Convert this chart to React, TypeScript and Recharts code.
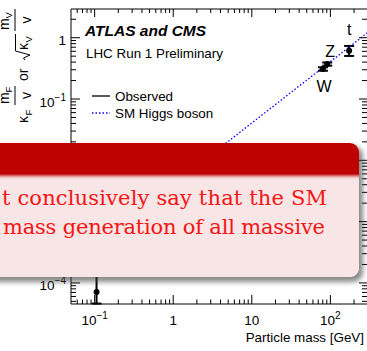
import React from "react";
import { ScatterChart, Scatter, XAxis, YAxis, ErrorBar, Customized } from "recharts";

// particles (mass in GeV, kappa-scaled reduced coupling)
const PARTICLES = [
  { name: "μ", m: 0.1057, y: 7.1e-5, err: [2.5e-5, 2e-4] },
  { name: "W", m: 80.4, y: 0.309, err: [0.02, 0.02] },
  { name: "Z", m: 91.19, y: 0.372, err: [0.022, 0.022] },
  { name: "t", m: 173.2, y: 0.614, err: [0.11, 0.12] },
];

// SM Higgs expectation (m / v), end points
const SM_LINE = [
  { m: 0.05, y: 0.000203 },
  { m: 310, y: 1.26 },
];

const X_DOMAIN = [0.05, 310];
const Y_DOMAIN = [4.53e-5, 2.94];

const X_TICKS = [
  0.06, 0.07, 0.08, 0.09, 0.1, 0.2, 0.3, 0.4, 0.5, 0.6, 0.7, 0.8, 0.9, 1, 2, 3, 4, 5, 6, 7,
  8, 9, 10, 20, 30, 40, 50, 60, 70, 80, 90, 100, 200, 300,
];
const Y_TICKS = [
  5e-5, 6e-5, 7e-5, 8e-5, 9e-5, 1e-4, 2e-4, 3e-4, 4e-4, 5e-4, 6e-4, 7e-4, 8e-4, 9e-4, 1e-3,
  2e-3, 3e-3, 4e-3, 5e-3, 6e-3, 7e-3, 8e-3, 9e-3, 1e-2, 0.02, 0.03, 0.04, 0.05, 0.06, 0.07,
  0.08, 0.09, 0.1, 0.2, 0.3, 0.4, 0.5, 0.6, 0.7, 0.8, 0.9, 1, 2,
];
// decade exponent -> [base, superscript]
const TICK_LABELS: Record<string, [string, string]> = {
  "-4": ["10", "−4"],
  "-3": ["10", "−3"],
  "-2": ["10", "−2"],
  "-1": ["10", "−1"],
  "0": ["1", ""],
  "1": ["10", ""],
  "2": ["10", "2"],
};

const LABEL_OFFSET: Record<string, [number, number]> = {
  t: [0, -16],
  Z: [3, -7],
  W: [1, 23],
};

const FONT = "'Liberation Sans', Arial, sans-serif";

const major = (v: number) => {
  const l = Math.log10(v);
  return Math.abs(l - Math.round(l)) < 1e-6 ? String(Math.round(l)) : null;
};

const TickText = ({ x, y, anchor, k }: any) => {
  const lab = TICK_LABELS[k];
  if (!lab) return null;
  return (
    <text x={x} y={y} textAnchor={anchor} fontSize={13.5} fontFamily={FONT} fill="#000">
      {lab[0]}
      {lab[1] && (
        <tspan dy={-6} fontSize={10}>
          {lab[1]}
        </tspan>
      )}
    </text>
  );
};

const BottomTick = (p: any) => {
  const k = major(p.payload.value);
  const len = k ? 9 : 4.5;
  return (
    <g>
      <line x1={p.x} x2={p.x} y1={p.y} y2={p.y - len} stroke="#000" />
      {k && <TickText x={p.x} y={p.y + 21} anchor="middle" k={k} />}
    </g>
  );
};

const TopTick = (p: any) => {
  const len = major(p.payload.value) ? 8 : 4;
  return <line x1={p.x} x2={p.x} y1={p.y} y2={p.y + len} stroke="#000" />;
};

const LeftTick = (p: any) => {
  const k = major(p.payload.value);
  const len = k ? 9 : 5;
  return (
    <g>
      <line x1={p.x} x2={p.x + len} y1={p.y} y2={p.y} stroke="#000" />
      {k && <TickText x={p.x - 5} y={p.y + 7.5} anchor="end" k={k} />}
    </g>
  );
};

const RightTick = (p: any) => {
  const len = major(p.payload.value) ? 10 : 7;
  return <line x1={p.x} x2={p.x - len} y1={p.y} y2={p.y} stroke="#000" />;
};

const DataDot = (p: any) => {
  const off = LABEL_OFFSET[p.payload.name];
  return (
    <g>
      <circle cx={p.cx} cy={p.cy} r={3} fill="#000" />
      {off && (
        <text
          x={p.cx + off[0]}
          y={p.cy + off[1]}
          textAnchor="middle"
          fontSize={16}
          fontFamily={FONT}
          fill="#000"
        >
          {p.payload.name}
        </text>
      )}
    </g>
  );
};

const Annotations = () => (
  <g fontFamily={FONT} fill="#000">
    <text x={85} y={36} fontSize={15.5} fontWeight="bold" fontStyle="italic">
      ATLAS and CMS
    </text>
    <text x={86} y={58} fontSize={13.4}>
      LHC Run 1 Preliminary
    </text>
    <line x1={92} x2={110} y1={96} y2={96} stroke="#000" strokeWidth={1.3} />
    <text x={115} y={100.8} fontSize={13.4}>
      Observed
    </text>
    <line x1={92} x2={110} y1={113} y2={113} stroke="#0000ff" strokeWidth={1.3} strokeDasharray="1.5 2" />
    <text x={115} y={117.8} fontSize={13.4}>
      SM Higgs boson
    </text>
    {/* y axis title, rotated */}
    <g transform="translate(28,126) rotate(-90)" fontSize={14}>
      <text x={3} y={0}>κ</text>
      <text x={10.5} y={3.5} fontSize={9.5}>F</text>
      <text x={22} y={-19}>m</text>
      <text x={33.5} y={-16} fontSize={9.5}>F</text>
      <line x1={21} x2={40} y1={-13} y2={-13} stroke="#000" strokeWidth={1} />
      <text x={30.5} y={2.5} textAnchor="middle">v</text>
      <text x={45} y={0}>or</text>
      <path d="M66,-3 L68,-4.5 L71,2 L75,-12.5 L92,-12.5" fill="none" stroke="#000" strokeWidth={1} />
      <text x={76} y={0}>κ</text>
      <text x={83.5} y={3.5} fontSize={9.5}>V</text>
      <text x={96} y={-19}>m</text>
      <text x={107.5} y={-16} fontSize={9.5}>V</text>
      <line x1={95} x2={117} y1={-13} y2={-13} stroke="#000" strokeWidth={1} />
      <text x={106} y={2.5} textAnchor="middle">v</text>
    </g>
    <text x={364} y={342} fontSize={13.4} textAnchor="end">
      Particle mass [GeV]
    </text>
  </g>
);

export default function App() {
  return (
    <div
      style={{
        position: "absolute",
        left: 0,
        top: 0,
        width: 367,
        height: 351,
        overflow: "hidden",
        background: "#fff",
      }}
    >
      <ScatterChart width={380} height={351} margin={{ top: 8, right: 10, bottom: 0, left: 0 }}>
        <XAxis
          xAxisId="b"
          type="number"
          dataKey="m"
          scale="log"
          domain={X_DOMAIN}
          ticks={X_TICKS}
          interval={0}
          allowDataOverflow
          height={47}
          tickSize={0}
          tickMargin={0}
          tickLine={false}
          axisLine={{ stroke: "#000" }}
          tick={(p: any) => <BottomTick {...p} />}
        />
        <XAxis
          xAxisId="t"
          orientation="top"
          type="number"
          dataKey="m"
          scale="log"
          domain={X_DOMAIN}
          ticks={X_TICKS}
          interval={0}
          allowDataOverflow
          height={1}
          tickSize={0}
          tickMargin={0}
          tickLine={false}
          axisLine={{ stroke: "#000" }}
          tick={(p: any) => <TopTick {...p} />}
        />
        <YAxis
          yAxisId="l"
          type="number"
          dataKey="y"
          scale="log"
          domain={Y_DOMAIN}
          ticks={Y_TICKS}
          interval={0}
          allowDataOverflow
          width={71}
          tickSize={0}
          tickMargin={0}
          tickLine={false}
          axisLine={{ stroke: "#000" }}
          tick={(p: any) => <LeftTick {...p} />}
        />
        <YAxis
          yAxisId="r"
          orientation="right"
          type="number"
          dataKey="y"
          scale="log"
          domain={Y_DOMAIN}
          ticks={Y_TICKS}
          interval={0}
          allowDataOverflow
          width={1}
          tickSize={0}
          tickMargin={0}
          tickLine={false}
          axisLine={{ stroke: "#000" }}
          tick={(p: any) => <RightTick {...p} />}
        />
        <Scatter
          xAxisId="b"
          yAxisId="l"
          data={SM_LINE}
          line={{ stroke: "#0000ff", strokeWidth: 1.3, strokeDasharray: "1.5 2" }}
          lineType="joint"
          shape={() => <g />}
          isAnimationActive={false}
        />
        <Scatter
          xAxisId="b"
          yAxisId="l"
          data={PARTICLES}
          shape={(p: any) => <DataDot {...p} />}
          isAnimationActive={false}
        >
          <ErrorBar dataKey="err" direction="y" width={5} stroke="#000" strokeWidth={2} isAnimationActive={false} />
        </Scatter>
        <Customized component={Annotations} />
      </ScatterChart>

      {/* slide block overlapping the plot */}
      <div
        style={{
          position: "absolute",
          left: -20,
          top: 143,
          width: 379,
          height: 134,
          borderRadius: 9,
          overflow: "hidden",
          boxShadow: "3px 4px 5px 1px rgba(60,60,60,0.6)",
          background:
            "linear-gradient(#bf0000 0px, #bf0000 31px, #d04848 32px, #eab4b4 34px, #f8e5e5 36px, #f8e5e5 100%)",
        }}
      />
      <svg
        width={367}
        height={351}
        style={{ position: "absolute", left: 0, top: 0, pointerEvents: "none" }}
      >
        <g fontFamily="'DejaVu Serif', serif" fontSize={21} fill="#f51414">
          <text x={2} y={205} textLength={325} lengthAdjust="spacing">
            t conclusively say that the SM
          </text>
          <text x={3} y={234} textLength={322} lengthAdjust="spacing">
            mass generation of all massive
          </text>
        </g>
      </svg>
    </div>
  );
}
